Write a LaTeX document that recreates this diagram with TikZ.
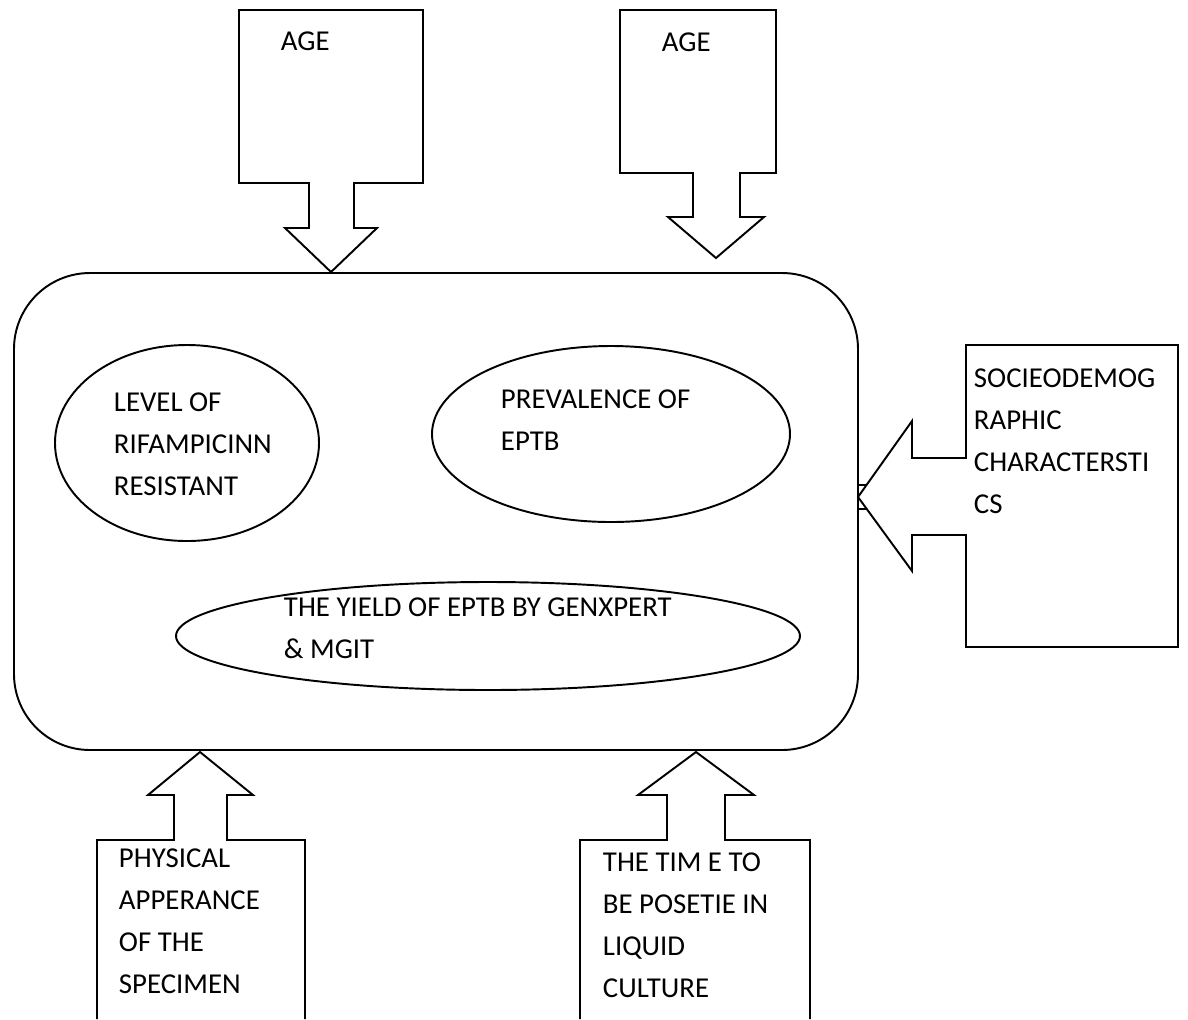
\documentclass[tikz,border=0pt]{standalone}
\usepackage{fontspec}
\setmainfont{Carlito}
\begin{document}
\begin{tikzpicture}[x=0.02cm,y=-0.02cm,line width=1.1pt,
		lbl/.style={anchor=north west,inner sep=0pt,align=left,font=\fontsize{16.4pt}{23.8pt}\selectfont}]
		\useasboundingbox (0,0) rectangle (1188,1019);
		
		% main frame and the three ellipses
		\draw[rounded corners=1.52cm] (14,273) rectangle (858,750);
		\draw (187,443) ellipse (132 and 98);
		\draw (611,434) ellipse (179 and 88);
		\draw (488,636) ellipse (312 and 54);
		
		% top callouts
		\draw (239,10) -- (423,10) -- (423,183) -- (354,183) -- (354,228) -- (377,228) -- (331,272) -- (285,228) -- (309,228) -- (309,183) -- (239,183) -- cycle;
		\draw (620,10) -- (776,10) -- (776,173) -- (740,173) -- (740,217) -- (764,217) -- (716,258) -- (668,217) -- (693,217) -- (693,173) -- (620,173) -- cycle;
		
		% right callout
		\draw (966,345) -- (1178,345) -- (1178,647) -- (966,647) -- (966,535) -- (912,535) -- (912,571) -- (858,497) -- (912,421) -- (912,458) -- (966,458) -- cycle;
		\draw (858,485) -- (866,485);
		\draw (858,509) -- (866,509);
		
		% bottom callouts
		\draw (97,1019) -- (97,840) -- (174,840) -- (174,795) -- (148,795) -- (200,752) -- (253,795) -- (227,795) -- (227,840) -- (305,840) -- (305,1019);
		\draw (580,1019) -- (580,840) -- (667,840) -- (667,795) -- (638,795) -- (696,752) -- (754,795) -- (725,795) -- (725,840) -- (810,840) -- (810,1019);
		
		\node[lbl] (age1) at (280,31) {AGE};
		\node[lbl] (age2) at (661,32) {AGE};
		\node[lbl] (socio) at (973,368) {SOCIEODEMOG\\RAPHIC\\CHARACTERSTI\\CS};
		\node[lbl] (level) at (113,392) {LEVEL OF\\RIFAMPICINN\\RESISTANT};
		\node[lbl] (prev) at (500,389) {PREVALENCE OF\\EPTB};
		\node[lbl] (yield) at (283,597) {THE YIELD OF EPTB BY GENXPERT\\\& MGIT};
		\node[lbl] (phys) at (118,848) {PHYSICAL\\APPERANCE\\OF THE\\SPECIMEN};
		\node[lbl] (time) at (602,852) {THE TIM E TO\\BE POSETIE IN\\LIQUID\\CULTURE};
	\end{tikzpicture}
\end{document}
